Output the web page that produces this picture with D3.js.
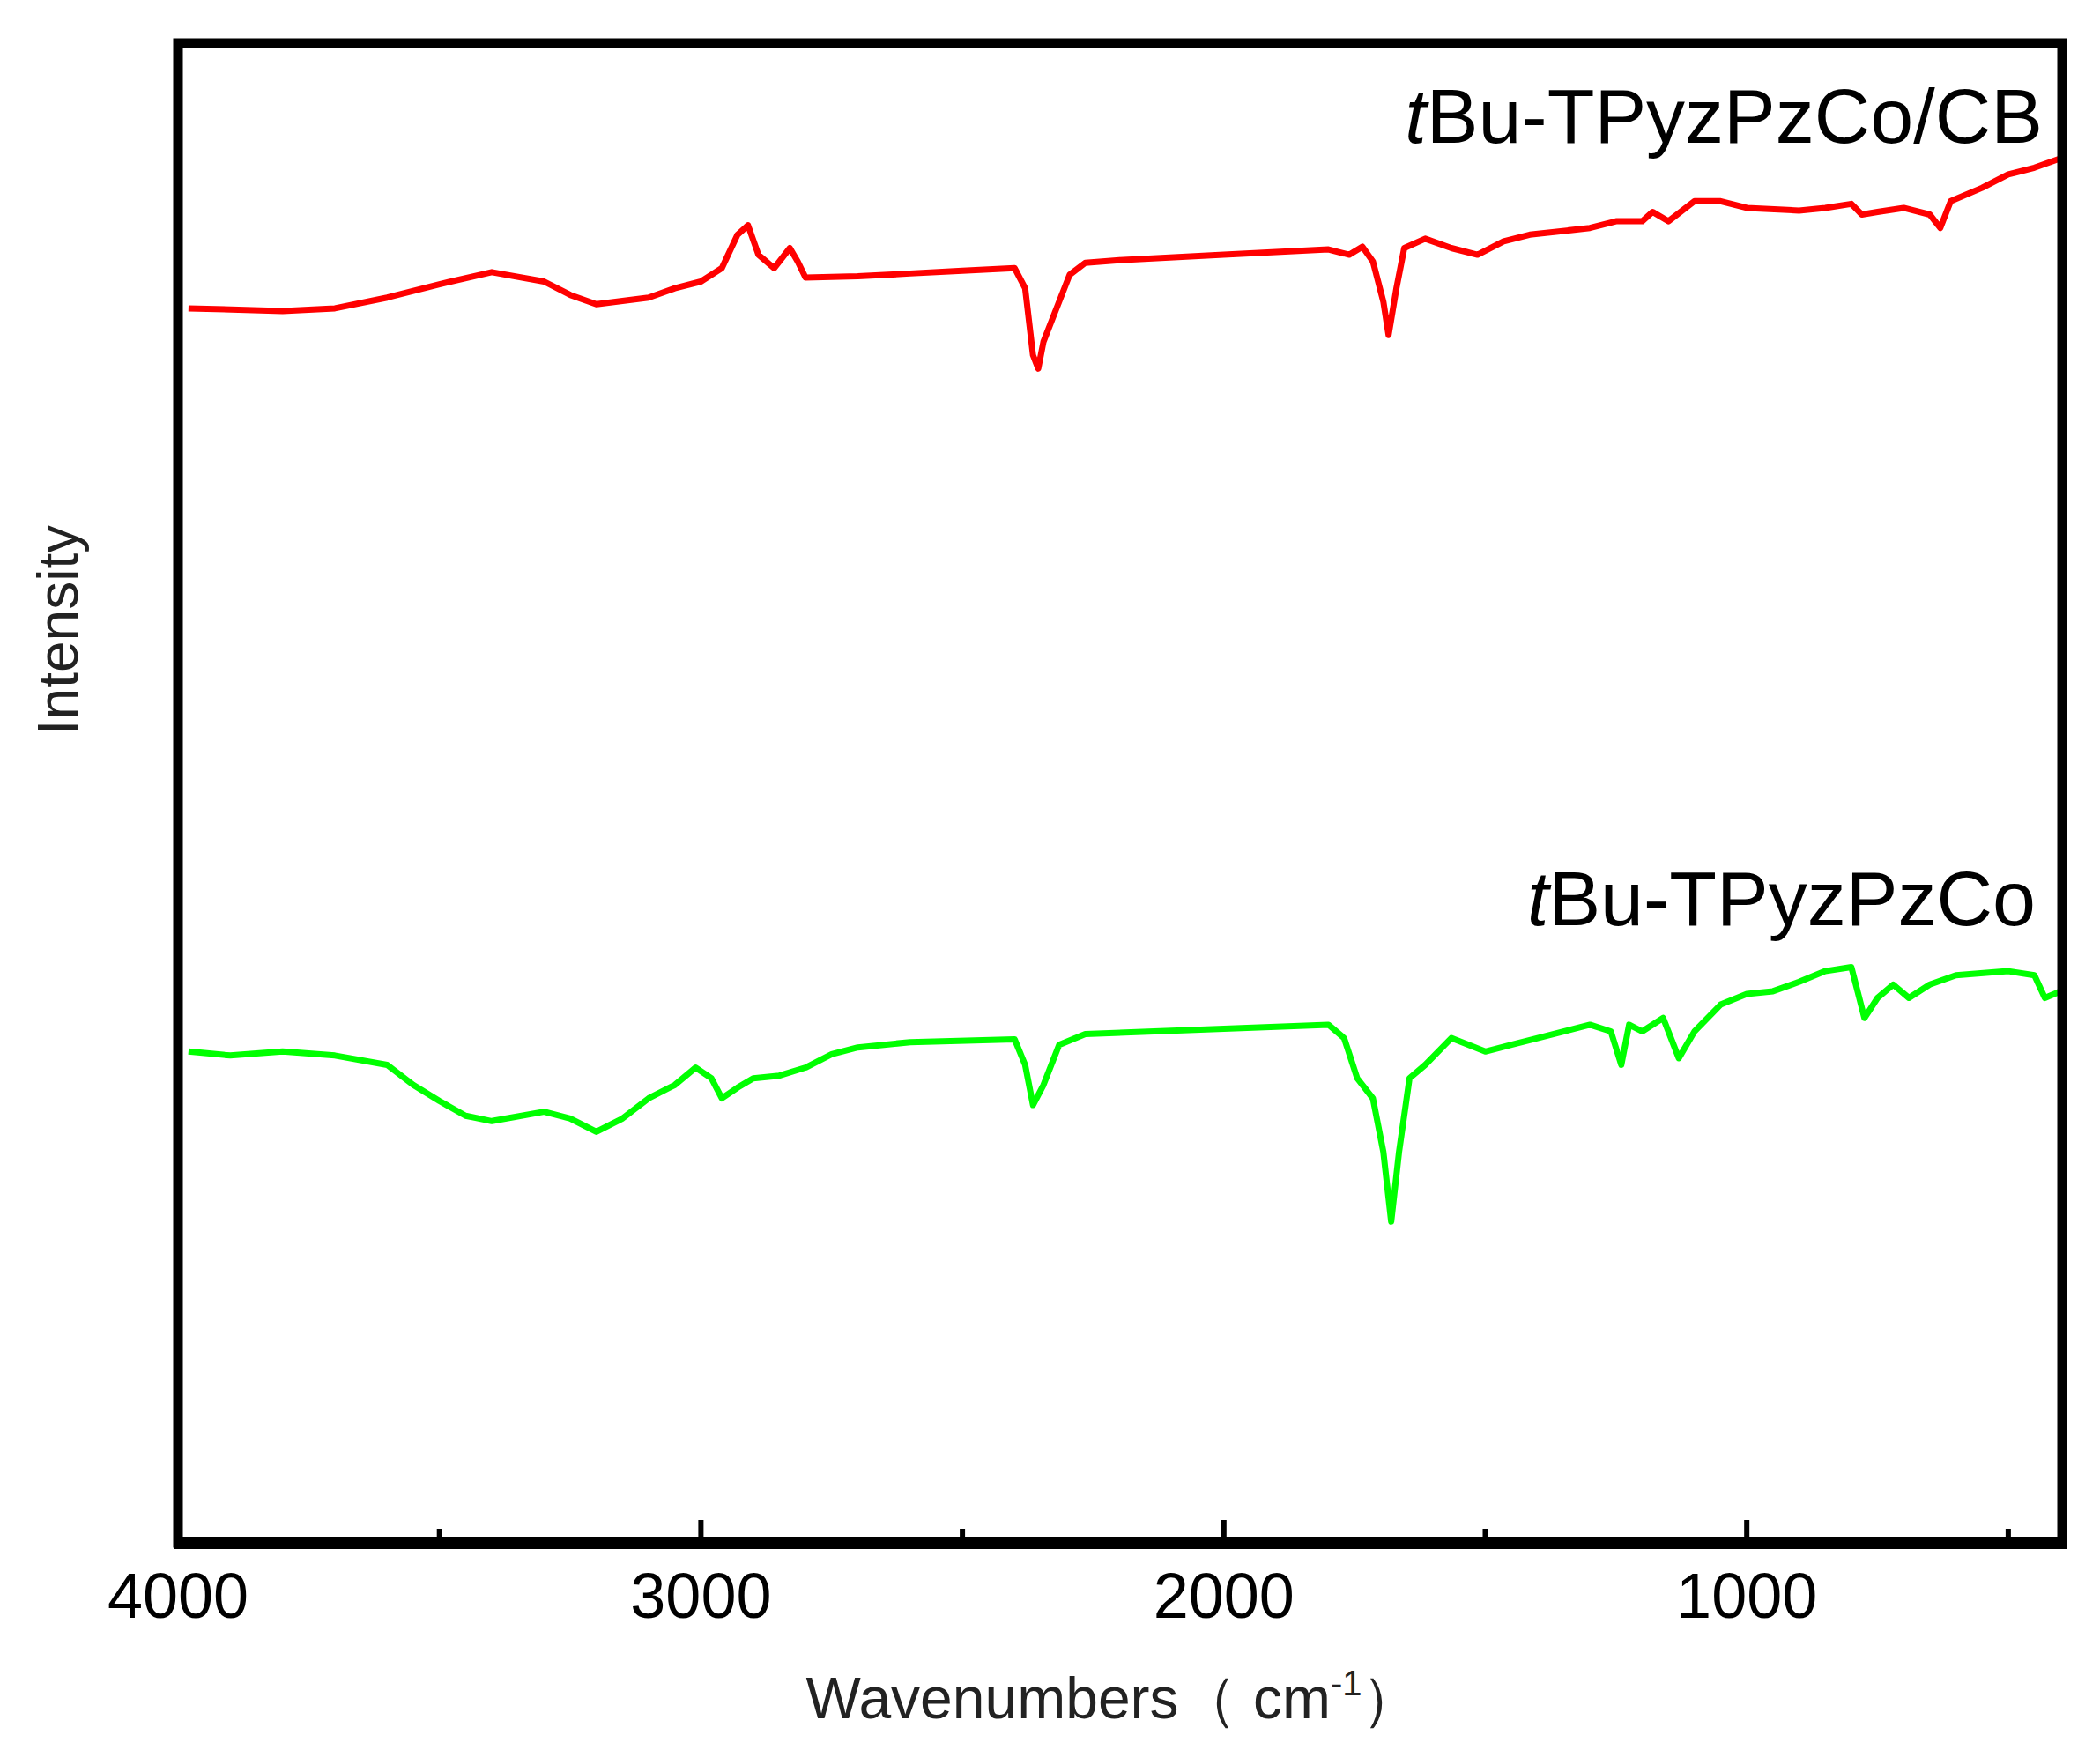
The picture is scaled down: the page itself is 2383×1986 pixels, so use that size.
<!DOCTYPE html>
<html><head><meta charset="utf-8">
<script src="https://cdn.jsdelivr.net/npm/d3@7"></script>
<style>body{margin:0;background:#fff}</style>
</head><body>
<svg id="c" width="2383" height="1986"></svg>
<script>
// wavenumbers (cm-1)
const redWave = [3980,3800,3700,3600,3500,3400,3300,3250,3200,3100,3050,3000,2960,2930,2910,2890,2860,2830,2815,2800,2700,2600,2500,2400,2380,2365,2355,2345,2325,2295,2265,2200,2000,1800,1760,1735,1715,1695,1685,1670,1655,1615,1565,1515,1465,1415,1300,1250,1200,1180,1150,1100,1050,1000,900,850,800,780,750,700,650,630,610,550,500,450,400];
const redInt  = [770,768,770,778,788,797,790,780,773,778,785,790,800,825,832,810,800,815,805,793,794,796,798,800,785,735,725,745,765,795,804,806,810,814,810,816,805,775,750,785,815,822,815,810,820,825,830,835,835,842,835,850,850,845,843,845,848,840,842,845,840,830,850,860,870,875,882];
const greenWave = [3980,3900,3800,3700,3600,3550,3500,3450,3400,3300,3250,3200,3150,3100,3050,3010,2980,2960,2930,2900,2850,2800,2750,2700,2600,2400,2380,2365,2345,2315,2265,2000,1800,1770,1745,1715,1695,1680,1665,1645,1615,1565,1500,1450,1400,1300,1260,1240,1225,1200,1160,1130,1100,1050,1000,950,900,850,800,775,750,720,690,650,600,500,450,430,400];
const greenInt  = [215,212,215,212,205,190,178,167,163,170,165,155,165,180,190,203,195,180,188,195,197,203,213,218,222,224,205,175,190,220,228,232,235,225,195,180,140,88,140,195,205,225,215,220,225,235,230,205,235,230,240,210,230,250,258,260,267,275,278,240,255,265,255,265,272,275,272,255,260];
const xTicks = [4000,3000,2000,1000];
const xMinor = [3500,2500,1500,500];
const labels = ["tBu-TPyzPzCo/CB","tBu-TPyzPzCo"];

const L=202,R=2340,T=49,B=1751;
const svg=d3.select("#c");
const x=d3.scaleLinear().domain([4000,397]).range([L,R]);
const y=d3.scaleLinear().domain([-152,968]).range([B,T]);
const line=d3.line().x(d=>x(d[0])).y(d=>y(d[1]));
const series=[[redWave,redInt,"#ff0000"],[greenWave,greenInt,"#00ff00"]];
series.forEach(([w,v,c])=>{
  svg.append("path").datum(w.map((d,i)=>[d,v[i]])).attr("d",line)
    .attr("fill","none").attr("stroke",c).attr("stroke-width",7).attr("stroke-linejoin","round");
});
// frame
svg.append("rect").attr("x",L).attr("y",T).attr("width",R-L).attr("height",B-T)
  .attr("fill","none").attr("stroke","#000").attr("stroke-width",11);
svg.append("line").attr("x1",L-5).attr("x2",R+5).attr("y1",B).attr("y2",B).attr("stroke","#000").attr("stroke-width",14);
// ticks
const ax=svg.append("g");
xTicks.forEach(t=>ax.append("line").attr("x1",x(t)).attr("x2",x(t)).attr("y1",B).attr("y2",B-26).attr("stroke","#000").attr("stroke-width",6));
xMinor.forEach(t=>ax.append("line").attr("x1",x(t)).attr("x2",x(t)).attr("y1",B).attr("y2",B-16).attr("stroke","#000").attr("stroke-width",6));
xTicks.forEach(t=>ax.append("text").attr("x",x(t)).attr("y",1836).attr("text-anchor","middle")
  .attr("font-family","'Liberation Sans Narrow','Liberation Sans',Arial").attr("font-size",72).text(t));
// titles
const tt=svg.append("text").attr("x",1263).attr("y",1950).attr("text-anchor","middle")
  .attr("font-family","'Liberation Sans',Arial").attr("font-size",66).attr("fill","#222");
tt.append("tspan").text("Wavenumbers\uFF08 cm");
tt.append("tspan").attr("font-size",40).attr("dy",-26).text("-1");
tt.append("tspan").attr("dy",26).text("\uFF09");
svg.append("text").attr("transform","translate(88,715) rotate(-90)").attr("text-anchor","middle")
  .attr("font-family","'Liberation Sans',Arial").attr("font-size",64).attr("fill","#222").text("Intensity");
// series labels
[[2318,162],[2310,1050]].forEach(([px,py],i)=>{
  const t=svg.append("text").attr("x",px).attr("y",py).attr("text-anchor","end")
    .attr("font-family","'Liberation Sans',Arial").attr("font-size",88);
  t.append("tspan").attr("font-style","italic").text(labels[i].slice(0,1));
  t.append("tspan").text(labels[i].slice(1));
});
</script>
</body></html>
